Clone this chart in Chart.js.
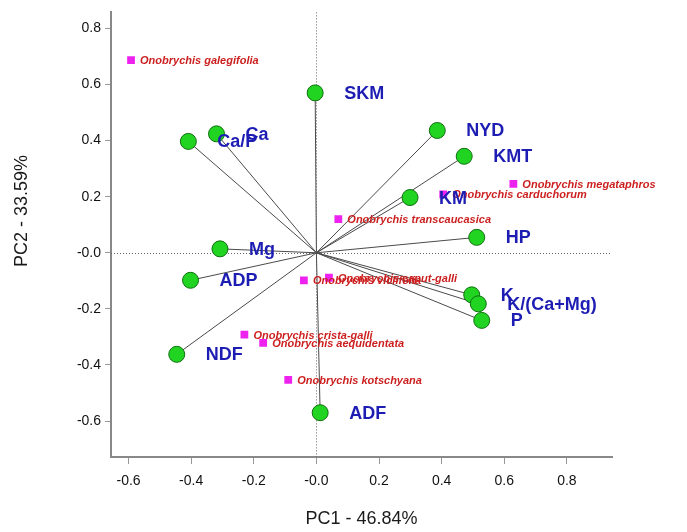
<!DOCTYPE html>
<html>
<head>
<meta charset="utf-8">
<script src="https://cdn.jsdelivr.net/npm/chart.js@4.4.7/dist/chart.umd.min.js"></script>
<style>
  html, body { margin: 0; padding: 0; background: #fff; }
  #wrap { width: 687px; height: 532px; }
</style>
</head>
<body>
<div id="wrap"><canvas id="biplot" width="687" height="532"></canvas></div>
<script>
// loadings (green points)
const variables = ['SKM', 'Ca', 'Ca/P', 'NYD', 'KMT', 'KM', 'HP', 'Mg', 'ADP', 'K', 'K/(Ca+Mg)', 'P', 'NDF', 'ADF'];
const varPC1 = [-0.004, -0.319, -0.409, 0.386, 0.472, 0.299, 0.512, -0.308, -0.402, 0.496, 0.517, 0.528, -0.446, 0.012];
const varPC2 = [0.570, 0.424, 0.397, 0.436, 0.344, 0.197, 0.055, 0.014, -0.098, -0.150, -0.182, -0.241, -0.362, -0.570];

// species scores (magenta squares)
const species = [
  'Onobrychis galegifolia', 'Onobrychis megataphros', 'Onobrychis carduchorum',
  'Onobrychis transcaucasica', 'Onobrychis viciifolia', 'Onobrychis caput-galli',
  'Onobrychis crista-galli', 'Onobrychis aequidentata', 'Onobrychis kotschyana'
];
const spPC1 = [-0.592, 0.629, 0.405, 0.070, -0.040, 0.040, -0.230, -0.170, -0.090];
const spPC2 = [0.687, 0.246, 0.208, 0.120, -0.098, -0.089, -0.292, -0.321, -0.453];

const xTicks = [-0.6, -0.4, -0.2, 0.0, 0.2, 0.4, 0.6, 0.8];
const yTicks = [-0.6, -0.4, -0.2, 0.0, 0.2, 0.4, 0.6, 0.8];

const fmt = v => Math.abs(v) < 1e-9 ? '-0.0' : v.toFixed(1);

// zero lines + labels
const biplotExtras = {
  id: 'biplotExtras',
  beforeDatasetsDraw(chart) {
    const { ctx, chartArea, scales: { x, y } } = chart;
    const x0 = x.getPixelForValue(0);
    const y0 = y.getPixelForValue(0);
    ctx.save();
    ctx.strokeStyle = '#666';
    ctx.lineWidth = 1;
    ctx.setLineDash([1, 2]);
    ctx.beginPath();
    ctx.moveTo(Math.round(x0) + 0.5, chartArea.top);
    ctx.lineTo(Math.round(x0) + 0.5, chartArea.bottom);
    ctx.moveTo(chartArea.left, Math.round(y0) + 0.5);
    ctx.lineTo(chartArea.right, Math.round(y0) + 0.5);
    ctx.stroke();
    ctx.restore();
  },
  afterDatasetsDraw(chart) {
    const { ctx, scales: { x, y } } = chart;
    ctx.save();
    ctx.textBaseline = 'middle';
    ctx.textAlign = 'left';

    ctx.fillStyle = '#cc1f1f';
    ctx.font = 'italic bold 11px "Liberation Sans", Arial, sans-serif';
    species.forEach((name, i) => {
      ctx.fillText(name, x.getPixelForValue(spPC1[i]) + 9, y.getPixelForValue(spPC2[i]) + 1);
    });

    ctx.fillStyle = '#1d1db4';
    ctx.font = 'bold 18px "Liberation Sans", Arial, sans-serif';
    variables.forEach((name, i) => {
      ctx.fillText(name, x.getPixelForValue(varPC1[i]) + 29, y.getPixelForValue(varPC2[i]) + 1);
    });

    // PC2 title, sits a bit above the middle of the axis
    ctx.fillStyle = '#1a1a1a';
    ctx.font = '18px "Liberation Sans", Arial, sans-serif';
    ctx.textAlign = 'center';
    ctx.translate(22, 211);
    ctx.rotate(-Math.PI / 2);
    ctx.fillText('PC2 - 33.59%', 0, 0);
    ctx.restore();
  }
};

const loadingLines = variables.map((name, i) => ({
  label: name,
  data: [{ x: 0, y: 0 }, { x: varPC1[i], y: varPC2[i] }],
  showLine: true,
  borderColor: '#4a4a4a',
  borderWidth: 1,
  pointRadius: 0
}));

new Chart(document.getElementById('biplot'), {
  type: 'scatter',
  data: {
    datasets: [
      {
        label: 'variables',
        data: varPC1.map((v, i) => ({ x: v, y: varPC2[i] })),
        pointStyle: 'circle',
        pointRadius: 8,
        backgroundColor: '#22d422',
        borderColor: '#0e6e0e',
        borderWidth: 1
      },
      {
        label: 'species',
        data: spPC1.map((v, i) => ({ x: v, y: spPC2[i] })),
        pointStyle: 'rect',
        pointRadius: 5.5,
        backgroundColor: '#ee22ee',
        borderColor: '#ee22ee',
        borderWidth: 0
      },
      ...loadingLines
    ]
  },
  options: {
    responsive: false,
    animation: false,
    layout: { padding: { left: 0, top: 8, right: 75, bottom: 0 } },
    plugins: { legend: { display: false }, tooltip: { enabled: false } },
    scales: {
      x: {
        type: 'linear',
        min: -0.656,
        max: 0.944,
        afterFit: s => { s.height = 75; },
        afterBuildTicks: s => { s.ticks = xTicks.map(v => ({ value: v })); },
        ticks: { callback: fmt, padding: 9, color: '#111', font: { size: 14, family: '"Liberation Sans", Arial' }, maxRotation: 0 },
        grid: { drawOnChartArea: false, drawTicks: true, tickLength: 7, color: '#999' },
        border: { display: true, color: '#888', width: 2 },
        title: { display: true, text: 'PC1 - 46.84%', color: '#1a1a1a', padding: { top: 0, bottom: 2 }, font: { size: 18, family: '"Liberation Sans", Arial' } }
      },
      y: {
        type: 'linear',
        min: -0.728,
        max: 0.857,
        afterFit: s => { s.width = 111; },
        afterBuildTicks: s => { s.ticks = yTicks.map(v => ({ value: v })); },
        ticks: { callback: fmt, padding: 4, color: '#111', font: { size: 14, family: '"Liberation Sans", Arial' } },
        grid: { drawOnChartArea: false, drawTicks: true, tickLength: 6, color: '#999' },
        border: { display: true, color: '#888', width: 2 }
      }
    }
  },
  plugins: [biplotExtras]
});
</script>
</body>
</html>
